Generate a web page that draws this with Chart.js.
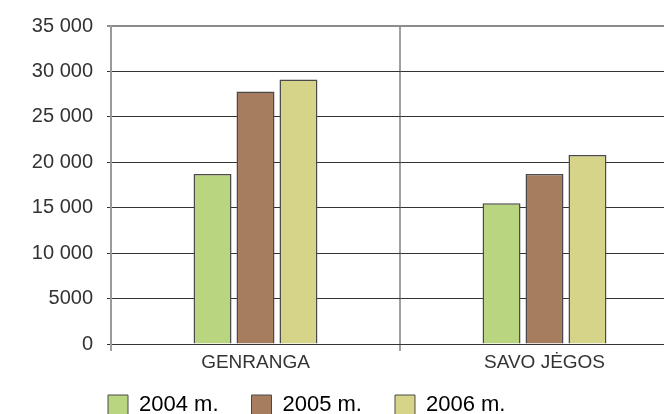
<!DOCTYPE html>
<html>
<head>
<meta charset="utf-8">
<script src="https://cdn.jsdelivr.net/npm/chart.js@4.4.1/dist/chart.umd.min.js"></script>
<style>
  html, body { margin: 0; padding: 0; overflow: hidden; background: #fff; }
  #wrap { width: 664px; height: 414px; overflow: hidden; }
</style>
</head>
<body>
<div id="wrap">
  <canvas id="grafikas" width="690" height="449"></canvas>
</div>
<script>
// duomenys
const kategorijos = ['GENRANGA', 'SAVO JĖGOS'];
const metai = ['2004 m.', '2005 m.', '2006 m.'];
const reiksmes2004 = [18700, 15500];
const reiksmes2005 = [27800, 18700];
const reiksmes2006 = [29100, 20800];
const yZymes = ['0', '5000', '10 000', '15 000', '20 000', '25 000', '30 000', '35 000'];

const spalvos = ['#b9d57f', '#a77d5f', '#d6d488'];

// legenda pastumiama po asimi
const legendosPoslinkis = {
  id: 'legendosPoslinkis',
  afterLayout(chart) {
    chart.legend.left = 75;
    chart.legend.top = 361;
  }
};

document.addEventListener("DOMContentLoaded", () => {
  Chart.defaults.font.family = "'Liberation Sans', Arial, sans-serif";
  Chart.defaults.color = '#333';

  const ctx = document.getElementById('grafikas').getContext('2d');

  new Chart(ctx, {
    type: 'bar',
    data: {
      labels: kategorijos,
      datasets: [reiksmes2004, reiksmes2005, reiksmes2006].map((d, i) => ({
        label: metai[i],
        data: d,
        backgroundColor: spalvos[i],
        borderColor: '#4a4a4a',
        borderWidth: 1.5,
        categoryPercentage: 0.446,
        barPercentage: 0.884
      }))
    },
    plugins: [legendosPoslinkis],
    options: {
      responsive: false,
      animation: false,
      devicePixelRatio: 1,
      layout: { padding: { top: 26, left: 0, right: 1, bottom: 0 } },
      plugins: {
        tooltip: { enabled: false },
        legend: {
          position: 'bottom',
          align: 'start',
          labels: {
            boxWidth: 20,
            boxHeight: 20,
            padding: 33,
            color: '#222',
            font: { size: 22 },
            generateLabels: chart => chart.data.datasets.map((ds, i) => ({
              text: ds.label,
              fillStyle: ds.backgroundColor,
              strokeStyle: '#4a4a4a',
              lineWidth: 1,
              datasetIndex: i
            }))
          }
        }
      },
      scales: {
        x: {
          afterFit: s => { s.height = 40; },
          grid: {
            offset: true,
            color: '#a0a0a0',
            lineWidth: 2,
            tickLength: 7
          },
          border: { color: '#333', width: 1 },
          ticks: { padding: 0, font: { size: 19 }, color: '#333' }
        },
        y: {
          min: 0,
          max: 35000,
          afterFit: s => { s.width = 111; },
          grid: {
            color: c => c.tick && c.tick.value === 35000 ? '#8c8c8c' : '#333',
            lineWidth: c => c.tick && c.tick.value === 35000 ? 2 : 1,
            tickLength: 4
          },
          border: { color: '#9a9a9a', width: 2 },
          ticks: {
            stepSize: 5000,
            padding: 14,
            font: { size: 20 },
            color: '#333',
            callback: (v, i) => yZymes[i]
          }
        }
      }
    }
  });
});
</script>
</body>
</html>
